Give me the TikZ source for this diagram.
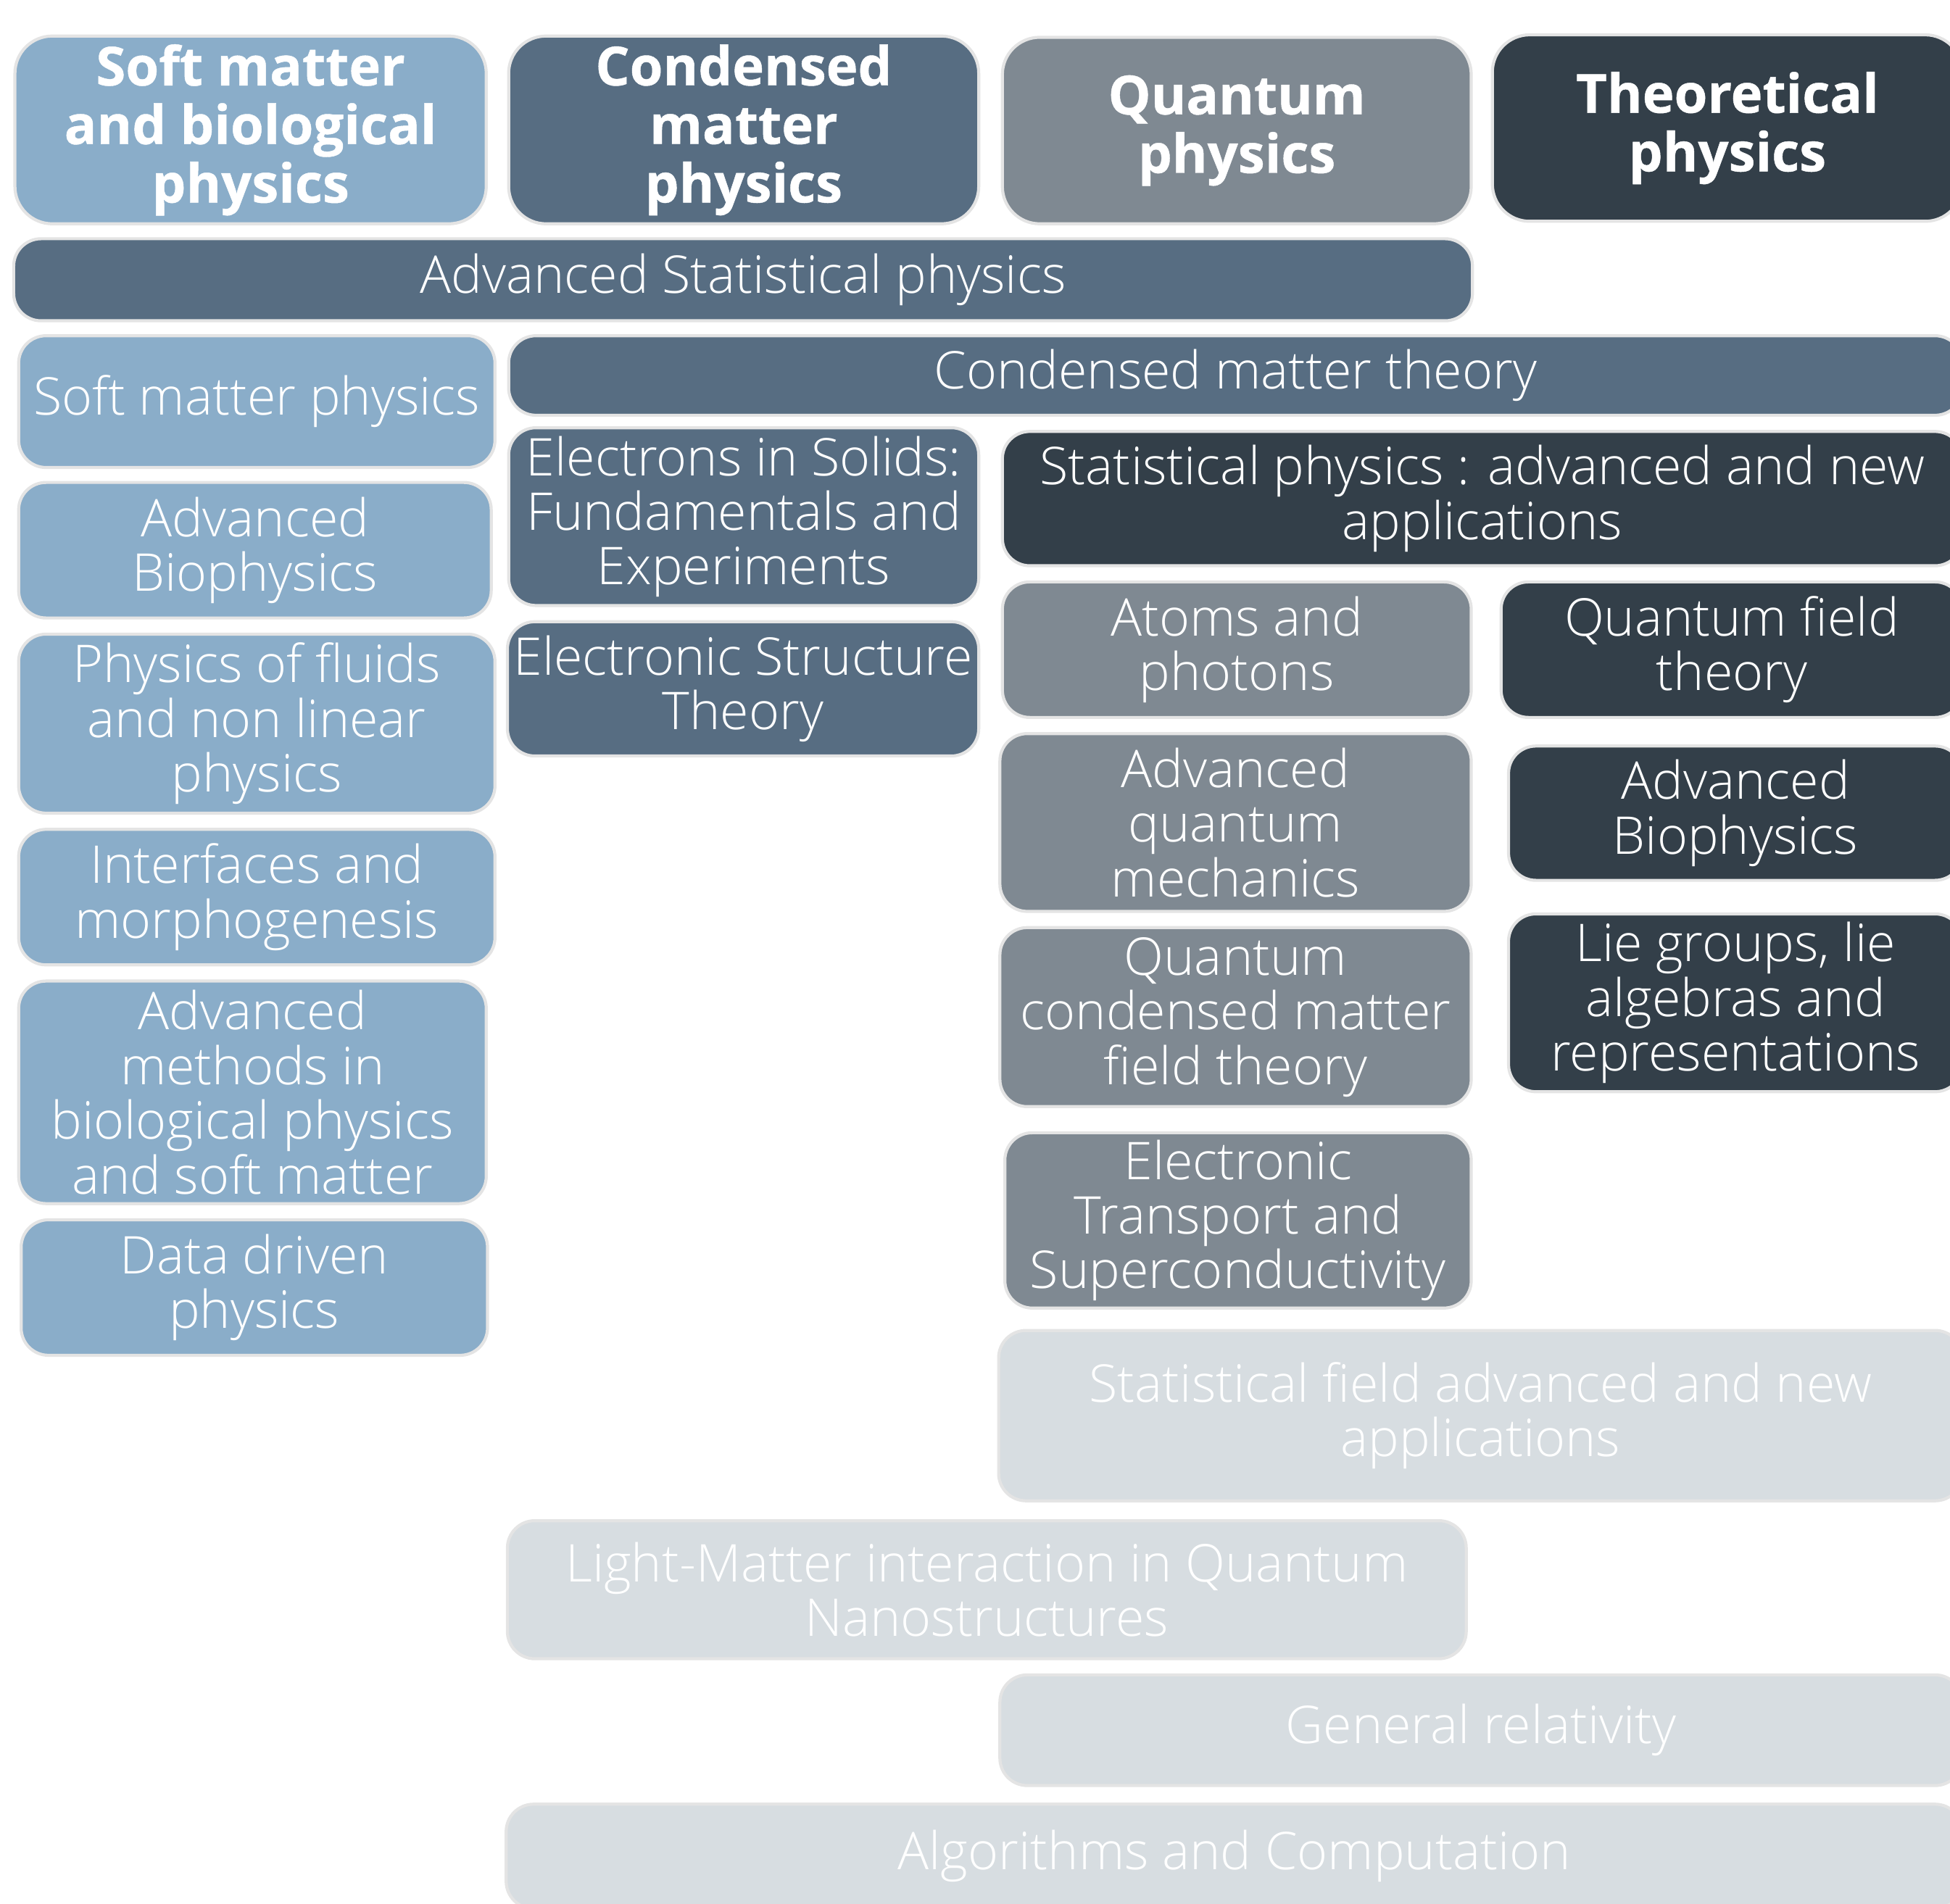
\documentclass[tikz,border=0pt]{standalone}
\usepackage{fontspec}
\setmainfont{Open Sans}[UprightFont={* Light}, BoldFont={* Bold}, BoldFeatures={FakeBold=0.6}]
\usepackage{xcolor}
\definecolor{softblue}{RGB}{138,173,201}
\definecolor{condslate}{RGB}{87,109,130}
\definecolor{quantgray}{RGB}{127,137,146}
\definecolor{theodark}{RGB}{51,63,73}
\definecolor{optpale}{RGB}{215,221,225}
\definecolor{boxline}{RGB}{228,228,228}
\usepackage{tikz}

\begin{document}
\begin{tikzpicture}[
  course/.style={draw=boxline, line width=0.7pt, rounded corners=0.22cm, text=white,
                 align=center, inner sep=0pt, font=\fontsize{11.9}{12.5}\selectfont},
  head/.style={course, rounded corners=0.3cm, font=\fontsize{12.3}{13.4}\selectfont\bfseries},
  soft/.style={course, fill=softblue},
  cond/.style={course, fill=condslate},
  quant/.style={course, fill=quantgray},
  theo/.style={course, fill=theodark},
  pale/.style={course, fill=optpale}]

\useasboundingbox (0,0) rectangle (15.68,-15.31);

% --- Track headers ---
\node[head, fill=softblue, minimum width=3.79cm, minimum height=1.51cm]
      (h-soft) at (2.015,-1.045) {Soft matter\\and biological\\physics};
\node[head, fill=condslate, minimum width=3.78cm, minimum height=1.51cm]
      (h-cond) at (5.98,-1.045) {Condensed\\matter\\physics};
\node[head, fill=quantgray, minimum width=3.77cm, minimum height=1.50cm]
      (h-quant) at (9.945,-1.05) {Quantum\\physics};
\node[head, fill=theodark, minimum width=3.78cm, minimum height=1.50cm]
      (h-theo) at (13.89,-1.03) {Theoretical\\physics};

% --- Shared course ---
\node[cond, minimum width=11.73cm, minimum height=0.66cm]
      (advstat) at (5.975,-2.25) {Advanced Statistical physics};

% --- Soft matter column ---
\node[soft, minimum width=3.83cm, minimum height=1.06cm] (softmat) at (2.065,-3.23) {Soft matter physics};
\node[soft, minimum width=3.80cm, minimum height=1.09cm] (advbio-a) at (2.05,-4.425) {Advanced\\Biophysics};
\node[soft, minimum width=3.83cm, minimum height=1.44cm] (fluids) at (2.065,-5.82) {Physics of fluids\\and non linear\\physics};
\node[soft, minimum width=3.83cm, minimum height=1.09cm] (interf) at (2.065,-7.215) {Interfaces and\\morphogenesis};
\node[soft, minimum width=3.76cm, minimum height=1.79cm] (advmeth) at (2.03,-8.785) {Advanced\\methods in\\biological physics\\and soft matter};
\node[soft, minimum width=3.75cm, minimum height=1.09cm] (datadr) at (2.045,-10.355) {Data driven\\physics};

% --- Condensed matter column ---
\node[cond, minimum width=11.69cm, minimum height=0.64cm] (cmtheory) at (9.935,-3.02) {Condensed matter theory};
\node[cond, minimum width=3.78cm, minimum height=1.43cm] (elsolids) at (5.98,-4.155) {Electrons in Solids:\\Fundamentals and\\Experiments};
\node[cond, minimum width=3.79cm, minimum height=1.08cm] (elstruct) at (5.975,-5.54) {Electronic Structure\\Theory};

% --- Quantum column ---
\node[theo, minimum width=7.72cm, minimum height=1.08cm] (statnew) at (11.92,-4.01) {Statistical physics : advanced and new\\applications};
\node[quant, minimum width=3.77cm, minimum height=1.09cm] (atoms) at (9.945,-5.225) {Atoms and\\photons};
\node[quant, minimum width=3.79cm, minimum height=1.43cm] (advqm) at (9.935,-6.615) {Advanced\\quantum\\mechanics};
\node[quant, minimum width=3.79cm, minimum height=1.44cm] (qcmft) at (9.935,-8.18) {Quantum\\condensed matter\\field theory};
\node[quant, minimum width=3.75cm, minimum height=1.41cm] (eltrans) at (9.955,-9.815) {Electronic\\Transport and\\Superconductivity};

% --- Theoretical column ---
\node[theo, minimum width=3.71cm, minimum height=1.09cm] (qft) at (13.925,-5.225) {Quantum field\\theory};
\node[theo, minimum width=3.65cm, minimum height=1.08cm] (advbio-b) at (13.955,-6.54) {Advanced\\Biophysics};
\node[theo, minimum width=3.65cm, minimum height=1.43cm] (liegroups) at (13.955,-8.065) {Lie groups, lie\\algebras and\\representations};

% --- Options ---
\node[pale, minimum width=7.75cm, minimum height=1.37cm] (statfield) at (11.905,-11.385) {Statistical field advanced and new\\applications};
\node[pale, minimum width=7.71cm, minimum height=1.11cm] (lightmatter) at (7.935,-12.785) {Light-Matter interaction in Quantum\\Nanostructures};
\node[pale, minimum width=7.74cm, minimum height=0.89cm] (genrel) at (11.91,-13.915) {General relativity};
\node[pale, minimum width=11.71cm, minimum height=0.84cm] (algo) at (9.925,-14.93) {Algorithms and Computation};

\end{tikzpicture}
\end{document}
